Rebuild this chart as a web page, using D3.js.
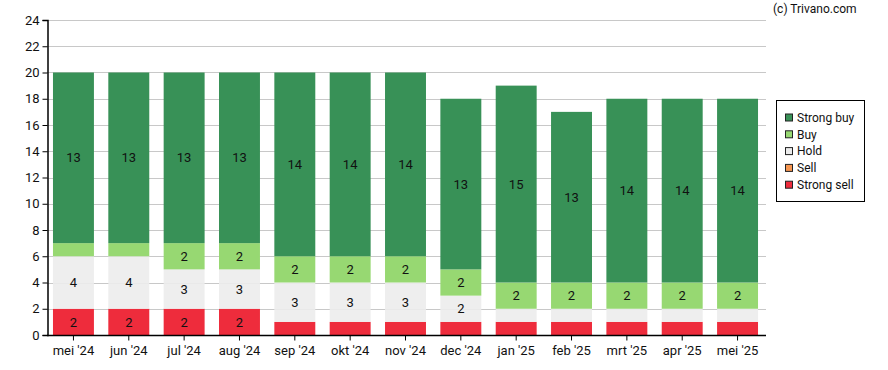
<!DOCTYPE html>
<html lang="nl">
<head>
    <meta charset="UTF-8">
    <title>Adviezen</title>
    <script src="https://d3js.org/d3.v7.min.js"></script>
    <style>
        body { margin: 0; background: #fff; overflow: hidden; }
        text { font-family: Roboto, "Liberation Sans", sans-serif; fill: #111; }
    </style>
</head>
<body>
    <svg id="chart"></svg>
    <script>
        const months = ["mei '24", "jun '24", "jul '24", "aug '24", "sep '24", "okt '24", "nov '24",
                        "dec '24", "jan '25", "feb '25", "mrt '25", "apr '25", "mei '25"];
        const strongSell = [2, 2, 2, 2, 1, 1, 1, 1, 1, 1, 1, 1, 1];
        const sell       = [0, 0, 0, 0, 0, 0, 0, 0, 0, 0, 0, 0, 0];
        const hold       = [4, 4, 3, 3, 3, 3, 3, 2, 1, 1, 1, 1, 1];
        const buy        = [1, 1, 2, 2, 2, 2, 2, 2, 2, 2, 2, 2, 2];
        const strongBuy  = [13, 13, 13, 13, 14, 14, 14, 13, 15, 13, 14, 14, 14];
        const yTicks = [0, 2, 4, 6, 8, 10, 12, 14, 16, 18, 20, 22, 24];

        const keys = ["Strong sell", "Sell", "Hold", "Buy", "Strong buy"];
        const colors = {
            "Strong sell": "#ee2c3c",
            "Sell": "#f79650",
            "Hold": "#ececec",
            "Buy": "#97d872",
            "Strong buy": "#389157"
        };

        const width = 888, height = 370;
        const plotLeft = 47, plotRight = 766;
        const margin = { top: 20, bottom: 35 };

        const svg = d3.select("#chart").attr("width", width).attr("height", height);

        const table = months.map((m, i) => ({
            month: m,
            "Strong sell": strongSell[i],
            "Sell": sell[i],
            "Hold": hold[i],
            "Buy": buy[i],
            "Strong buy": strongBuy[i]
        }));

        const x = d3.scaleBand()
            .domain(months)
            .range([plotLeft, plotRight - 2])
            .paddingInner(0.26)
            .paddingOuter(0.108);

        const y = d3.scaleLinear()
            .domain([0, 24])
            .range([height - margin.bottom, margin.top]);

        // grid
        svg.append("g")
            .selectAll("line")
            .data(yTicks)
            .enter()
            .append("line")
            .attr("x1", plotLeft)
            .attr("x2", plotRight)
            .attr("y1", d => Math.round(y(d)) + 0.5)
            .attr("y2", d => Math.round(y(d)) + 0.5)
            .attr("stroke", "#c8c8c8")
            .attr("stroke-width", 1);

        const series = d3.stack().keys(keys)(table);

        const layers = svg.append("g")
            .selectAll("g")
            .data(series)
            .enter()
            .append("g")
            .attr("fill", d => colors[d.key])
            .attr("fill-opacity", d => d.key === "Hold" ? 0.9 : 1);

        layers.selectAll("rect")
            .data(d => d)
            .enter()
            .append("rect")
            .attr("x", d => x(d.data.month))
            .attr("width", x.bandwidth())
            .attr("y", d => y(d[1]))
            .attr("height", d => y(d[0]) - y(d[1]));

        // value labels (only for segments of 2 or more)
        layers.selectAll("text")
            .data(d => d.filter(s => s[1] - s[0] >= 2))
            .enter()
            .append("text")
            .attr("x", d => x(d.data.month) + x.bandwidth() / 2)
            .attr("y", d => (y(d[0]) + y(d[1])) / 2)
            .attr("dy", "0.36em")
            .attr("text-anchor", "middle")
            .attr("font-size", 13)
            .attr("fill", "#111")
            .attr("fill-opacity", 1)
            .text(d => d[1] - d[0]);

        // axes
        const yAxis = svg.append("g")
            .attr("transform", `translate(${plotLeft + 0.5},0)`)
            .call(d3.axisLeft(y).tickValues(yTicks).tickSize(5).tickPadding(3));
        yAxis.select(".domain").attr("stroke", "#000").attr("stroke-width", 1.5);
        yAxis.selectAll("text").attr("font-size", 13).attr("fill", "#111");

        const xAxis = svg.append("g")
            .attr("transform", `translate(0,${y(0) + 0.5})`)
            .call(d3.axisBottom(x).tickSize(5).tickPadding(5).tickSizeOuter(0));
        xAxis.select(".domain").remove();
        xAxis.append("line")
            .attr("x1", plotLeft).attr("x2", plotRight)
            .attr("stroke", "#000").attr("stroke-width", 1.5);
        xAxis.selectAll("text").attr("font-size", 13).attr("fill", "#111");

        // copyright
        svg.append("text")
            .attr("x", 773)
            .attr("y", 13)
            .attr("font-size", 12)
            .text("(c) Trivano.com");

        // legend
        const legend = svg.append("g").attr("transform", "translate(776,100)");
        legend.append("rect")
            .attr("x", 0.5).attr("y", 0.5)
            .attr("width", 88).attr("height", 101)
            .attr("fill", "#fff")
            .attr("stroke", "#000");

        const legendKeys = keys.slice().reverse();
        const items = legend.selectAll("g.item")
            .data(legendKeys)
            .enter()
            .append("g")
            .attr("class", "item")
            .attr("transform", (d, i) => `translate(9,${13.5 + i * 16.8})`);

        items.append("rect")
            .attr("x", 0.5).attr("y", 0.5)
            .attr("width", 7).attr("height", 7)
            .attr("fill", d => colors[d])
            .attr("stroke", "#222");

        items.append("text")
            .attr("x", 12)
            .attr("y", 4)
            .attr("dy", "0.36em")
            .attr("font-size", 12)
            .text(d => d);
    </script>
</body>
</html>
